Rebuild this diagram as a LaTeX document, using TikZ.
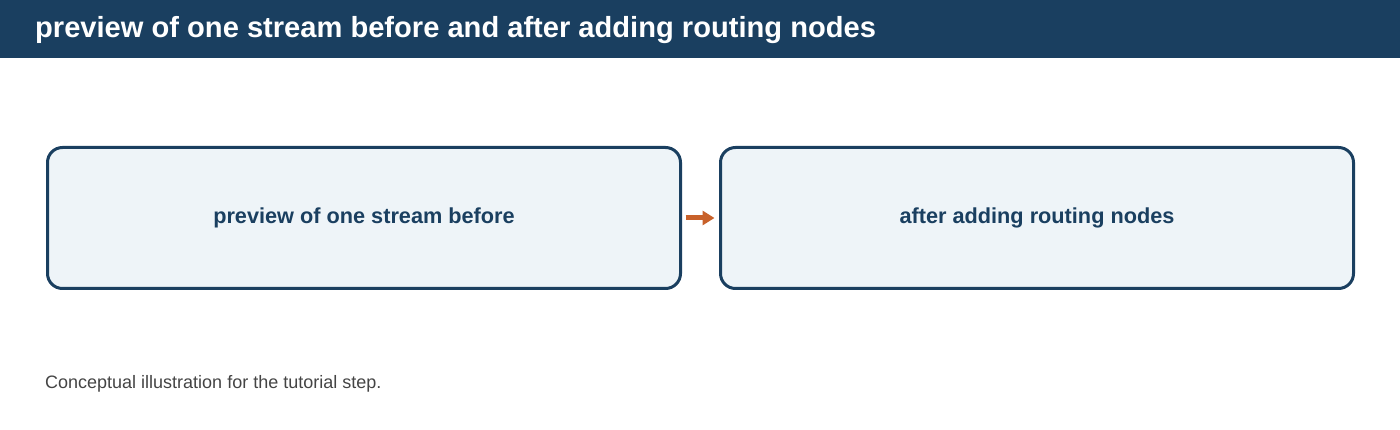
\documentclass[tikz,border=0pt]{standalone}
\usepackage{fontspec}
\setmainfont{Liberation Sans}
\usetikzlibrary{arrows.meta,positioning}
\definecolor{navy}{HTML}{1A3F60}
\definecolor{panel}{HTML}{EEF4F8}
\definecolor{accent}{HTML}{C8612A}
\definecolor{note}{HTML}{444444}
\begin{document}
\begin{tikzpicture}[x=1pt,y=-1pt,
  stage/.style={draw=navy,fill=panel,line width=3pt,rounded corners=15pt,
    minimum width=633pt,minimum height=141pt,inner sep=0pt,outer sep=0pt,
    text=navy,font=\fontsize{21.7}{26}\selectfont\bfseries},
  link/.style={accent,line width=5pt,-{Triangle[length=12pt,width=14pt]}}]
\useasboundingbox (0,0) rectangle (1400,430);
\fill[navy] (0,0) rectangle (1400,58);
\node[anchor=west,text=white,font=\fontsize{29.1}{34}\selectfont\bfseries,inner sep=0pt]
  (title) at (35,30) {preview of one stream before and after adding routing nodes};
\node[stage] (before) at (364,218) {preview of one stream before};
\node[stage,right=40pt of before] (after) {after adding routing nodes};
\draw[link,shorten <=5pt,shorten >=6pt] (before) -- (after);
\node[anchor=base west,text=note,font=\fontsize{18}{21}\selectfont,inner sep=0pt]
  (caption) at (45,388) {Conceptual illustration for the tutorial step.};
\end{tikzpicture}
\end{document}
